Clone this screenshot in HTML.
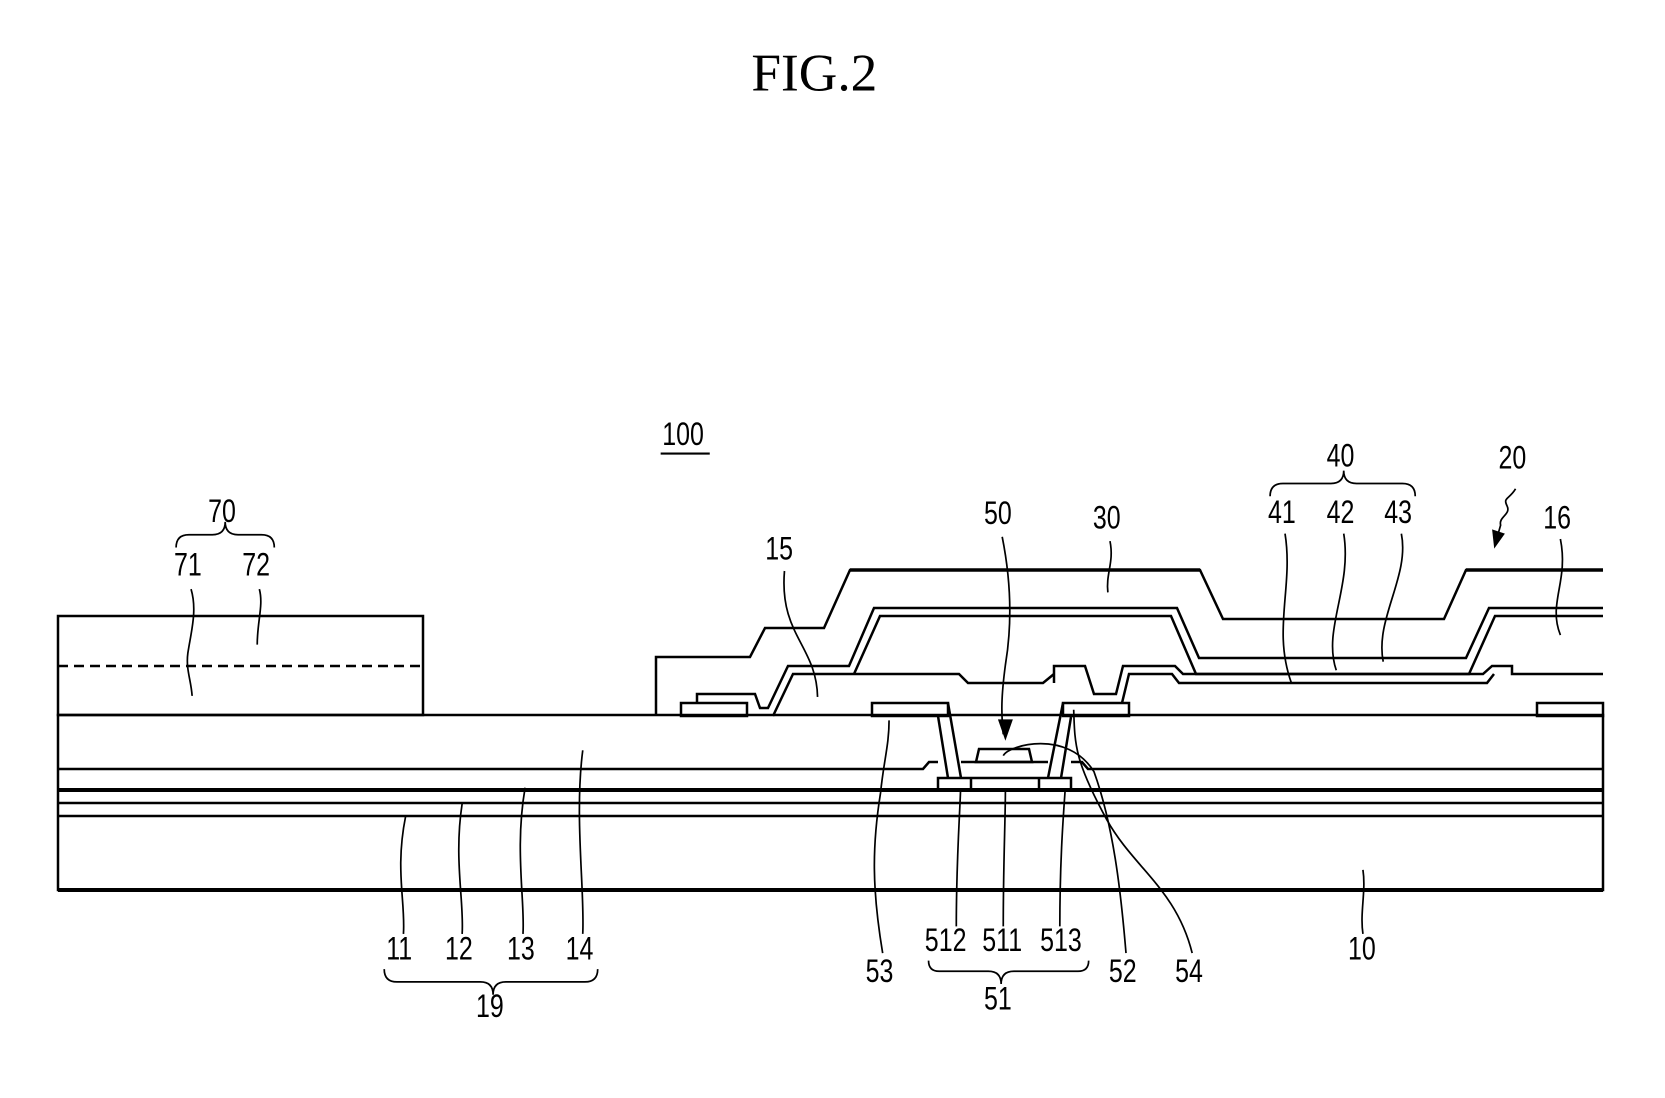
<!DOCTYPE html>
<html><head><meta charset="utf-8"><style>
html,body{margin:0;padding:0;background:#fff;}
svg{display:block;}
text{font-family:"Liberation Sans",sans-serif;fill:#000;}
</style></head><body>
<svg width="1665" height="1098" viewBox="0 0 1665 1098" xmlns="http://www.w3.org/2000/svg">
<g fill="none" stroke="#000" stroke-width="2.5" stroke-linejoin="miter">
<rect x="58" y="715" width="1545" height="175"/>
<line x1="58" y1="890" x2="1603" y2="890" stroke-width="4"/>
<line x1="58" y1="803" x2="1603" y2="803"/>
<line x1="58" y1="816" x2="1603" y2="816"/>
<line x1="58" y1="790" x2="1603" y2="790" stroke-width="4"/>
<polyline points="58,769 923,769 929,762 938,762"/>
<polyline points="1071,762 1082,762 1088,769 1603,769"/>
<rect x="58" y="616" width="365" height="99"/>
<line x1="58" y1="666" x2="423" y2="666" stroke-dasharray="10,6"/>
<polyline points="656,716 656,657 750,657 765,628 824,628 850,570 1200,570 1223,619 1444,619 1466,570 1603,570"/>
<line x1="850" y1="570" x2="1200" y2="570" stroke-width="3.5"/>
<line x1="1466" y1="570" x2="1603" y2="570" stroke-width="3.5"/>
<rect x="681" y="703" width="66" height="13"/>
<polyline points="697,703 697,694 755,694 760,708 768,708 788,666 849,666 874,608 1177,608 1199,658 1466,658 1489,608 1603,608"/>
<polyline points="854,674 880,616 1171,616 1196,674 1469,674 1495,616 1603,616"/>
<polyline points="773,716 793,674 959,674 968,683 1043,683 1054,674"/>
<polyline points="1054,683 1054,666 1085,666 1094,694 1116,694 1123,666 1175,666 1183,674 1483,674 1492,666 1512,666 1512,674 1603,674"/>
<polyline points="1122,703 1129,674 1172,674 1179,683 1487,683 1494,674"/>
<rect x="872" y="703" width="76" height="13"/>
<rect x="1063" y="703" width="66" height="13"/>
<rect x="1537" y="703" width="66" height="13"/>
<line x1="938" y1="716" x2="948" y2="778"/>
<line x1="948" y1="703" x2="961" y2="778"/>
<line x1="1048" y1="778" x2="1063" y2="703"/>
<line x1="1061" y1="778" x2="1071" y2="717"/>
<line x1="961" y1="762" x2="1048" y2="762"/>
<polygon points="976,762 979,749 1029,749 1032,762"/>
<rect x="938" y="778" width="133" height="12"/>
<line x1="971" y1="778" x2="971" y2="790"/>
<line x1="1039" y1="778" x2="1039" y2="790"/>
</g>
<g transform="scale(1.0673)">
<text x="763" y="85" font-size="50" text-anchor="middle" style="font-family:'Liberation Serif',serif">FIG.2</text>
<g font-size="30" text-anchor="middle">
<text transform="translate(640,417) scale(0.78,1)">100</text>
<text transform="translate(208,489) scale(0.78,1)">70</text>
<text transform="translate(176,539) scale(0.78,1)">71</text>
<text transform="translate(240,539) scale(0.78,1)">72</text>
<text transform="translate(730,524) scale(0.78,1)">15</text>
<text transform="translate(935,491) scale(0.78,1)">50</text>
<text transform="translate(1037,495) scale(0.78,1)">30</text>
<text transform="translate(1256,437) scale(0.78,1)">40</text>
<text transform="translate(1201,490) scale(0.78,1)">41</text>
<text transform="translate(1256,490) scale(0.78,1)">42</text>
<text transform="translate(1310,490) scale(0.78,1)">43</text>
<text transform="translate(1417,439) scale(0.78,1)">20</text>
<text transform="translate(1459,495) scale(0.78,1)">16</text>
<text transform="translate(374,899) scale(0.78,1)">11</text>
<text transform="translate(430,899) scale(0.78,1)">12</text>
<text transform="translate(488,899) scale(0.78,1)">13</text>
<text transform="translate(543,899) scale(0.78,1)">14</text>
<text transform="translate(459,953) scale(0.78,1)">19</text>
<text transform="translate(824,920) scale(0.78,1)">53</text>
<text transform="translate(886,891) scale(0.78,1)">512</text>
<text transform="translate(939,891) scale(0.78,1)">511</text>
<text transform="translate(994,891) scale(0.78,1)">513</text>
<text transform="translate(935,946) scale(0.78,1)">51</text>
<text transform="translate(1052,920) scale(0.78,1)">52</text>
<text transform="translate(1114,920) scale(0.78,1)">54</text>
<text transform="translate(1276,899) scale(0.78,1)">10</text>
</g>
<line x1="619" y1="425" x2="665" y2="425" stroke="#000" stroke-width="2"/>
<g fill="none" stroke="#000" stroke-width="1.6">
<path d="M165,513 q0,-12 12,-12 h22 q12,0 12,-12 q0,12 12,12 h22 q12,0 12,12"/>
<path d="M1190,465 q0,-12 12,-12 h45 q12,0 12,-12 q0,12 12,12 h43 q12,0 12,12"/>
<path d="M360,908 q0,12 12,12 h78 q12,0 12,12 q0,-12 12,-12 h74 q12,0 12,-12"/>
<path d="M870,900 q0,10 10,10 h46 q12,0 12,12 q0,-12 12,-12 h60 q10,0 10,-10"/>
<path d="M179,552 c6,20 0,40 -3,60 c-2,15 3,25 4,40"/>
<path d="M243,552 c4,15 -2,30 -2,52"/>
<path d="M378,875 c2,-30 -8,-60 2,-110"/>
<path d="M433,875 c2,-30 -8,-70 0,-122"/>
<path d="M490,875 c2,-30 -8,-80 2,-137"/>
<path d="M546,875 c2,-40 -8,-110 0,-172"/>
<path d="M735,535 c-5,60 30,70 31,118"/>
<path d="M939,503 c10,50 8,90 3,120 c-4,30 -4,45 -2,65"/>
<path d="M1040,507 c4,20 -4,30 -2,48"/>
<path d="M1204,500 c8,50 -12,90 6,140"/>
<path d="M1259,500 c8,50 -20,90 -7,128"/>
<path d="M1313,500 c8,40 -25,80 -17,120"/>
<path d="M1462,505 c8,40 -12,60 0,90"/>
<path d="M827,893 c-10,-60 -10,-100 -2,-150 c3,-30 8,-45 8,-68"/>
<path d="M896,868 c0,-60 3,-100 4,-128"/>
<path d="M940,868 c0,-60 2,-100 2,-128"/>
<path d="M993,868 c0,-60 3,-100 5,-128"/>
<path d="M1055,893 c-5,-60 -12,-120 -30,-170 c-25,-40 -80,-25 -85,-15"/>
<path d="M1117,893 c-15,-60 -55,-80 -80,-125 c-30,-55 -30,-70 -31,-103"/>
<path d="M1277,875 c-3,-20 3,-40 0,-60"/>
<path d="M1420,458 c-6,10 -12,8 -8,16 c4,8 -8,10 -6,18 l-4,14"/>
</g>
<polygon points="942,694 935,674 949,674" fill="#000"/>
<polygon points="1400,514 1398,496 1410,500" fill="#000"/>
</g>
</svg>
</body></html>
